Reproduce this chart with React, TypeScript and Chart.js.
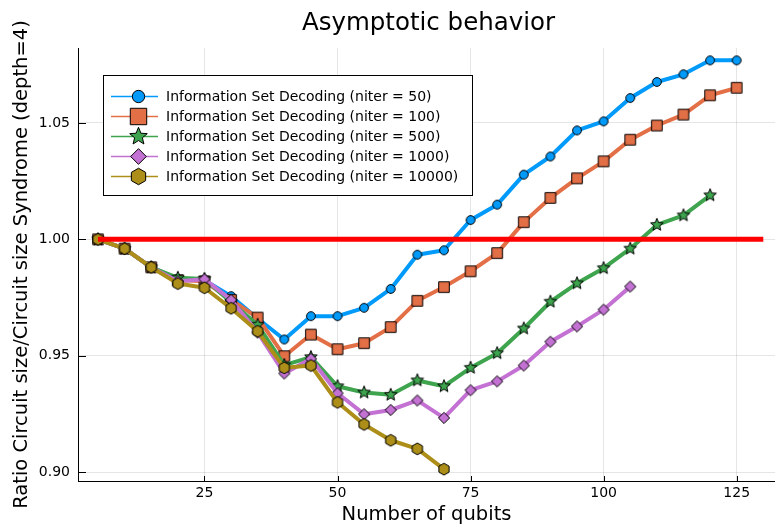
import React, { useEffect, useRef } from 'react';
import { Chart, registerables } from 'chart.js';

Chart.register(...registerables);

// ---------- data ----------
const qubits = [5, 10, 15, 20, 25, 30, 35, 40, 45, 50, 55, 60, 65, 70, 75, 80, 85, 90, 95, 100, 105, 110, 115, 120, 125];

const niter50 = [1.0, 0.996, 0.988, 0.983, 0.9825, 0.9756, 0.966, 0.957, 0.967, 0.967, 0.9706, 0.9787, 0.9934, 0.9953, 1.0083, 1.0149, 1.0278, 1.0356, 1.0468, 1.0507, 1.0607, 1.0676, 1.0709, 1.0769, 1.0769];
const niter100 = [1.0, 0.996, 0.988, 0.9825, 0.982, 0.974, 0.9664, 0.9498, 0.9591, 0.9528, 0.9554, 0.9623, 0.9736, 0.9795, 0.9863, 0.9941, 1.0074, 1.0178, 1.0262, 1.0335, 1.0428, 1.0489, 1.0536, 1.0619, 1.0651];
const niter500 = [1.0, 0.996, 0.988, 0.9835, 0.983, 0.973, 0.9633, 0.946, 0.9494, 0.9369, 0.9342, 0.9332, 0.9394, 0.9369, 0.9448, 0.9511, 0.9617, 0.9732, 0.9811, 0.9876, 0.996, 1.0062, 1.0103, 1.0189];
const niter1000 = [1.0, 0.996, 0.988, 0.982, 0.9829, 0.974, 0.96, 0.9424, 0.9487, 0.9339, 0.9249, 0.9267, 0.9308, 0.9233, 0.9352, 0.939, 0.9458, 0.956, 0.9626, 0.9698, 0.9797];
const niter10000 = [1.0, 0.996, 0.988, 0.981, 0.9792, 0.9704, 0.9605, 0.9448, 0.9458, 0.93, 0.9205, 0.9137, 0.91, 0.9013];

const refX = [5, 130];
const refY = [1.0, 1.0];

const seriesLabels = [
  'Information Set Decoding (niter = 50)',
  'Information Set Decoding (niter = 100)',
  'Information Set Decoding (niter = 500)',
  'Information Set Decoding (niter = 1000)',
  'Information Set Decoding (niter = 10000)',
];

const xTickValues = [25, 50, 75, 100, 125];
const yTickValues = [0.9, 0.95, 1.0, 1.05];

const titleText = 'Asymptotic behavior';
const xTitle = 'Number of qubits';
const yTitle = 'Ratio Circuit size/Circuit size Syndrome (depth=4)';

// ---------- styles ----------
const colors = ['#009AFA', '#E36F47', '#3EA44E', '#C371D2', '#AC8E18'];
const shapes = ['circle', 'square', 'star', 'diamond', 'hexagon'];
const FONT = "'DejaVu Sans', sans-serif";

function drawMarker(ctx: CanvasRenderingContext2D, shape: string, x: number, y: number, k: number, fill: string) {
  ctx.save();
  ctx.beginPath();
  if (shape === 'circle') {
    ctx.arc(x, y, 4.4 * k, 0, Math.PI * 2);
  } else if (shape === 'square') {
    const h = 5.3 * k;
    ctx.rect(x - h, y - h, 2 * h, 2 * h);
  } else if (shape === 'diamond') {
    const r = 5.6 * k;
    ctx.moveTo(x, y - r);
    ctx.lineTo(x + r, y);
    ctx.lineTo(x, y + r);
    ctx.lineTo(x - r, y);
    ctx.closePath();
  } else if (shape === 'star') {
    const R = 6.6 * k;
    const r = 2.9 * k;
    for (let i = 0; i < 10; i++) {
      const a = -Math.PI / 2 + (i * Math.PI) / 5;
      const rad = i % 2 === 0 ? R : r;
      const px = x + rad * Math.cos(a);
      const py = y + rad * Math.sin(a);
      if (i === 0) ctx.moveTo(px, py);
      else ctx.lineTo(px, py);
    }
    ctx.closePath();
  } else {
    const r = 5.9 * k;
    for (let i = 0; i < 6; i++) {
      const a = -Math.PI / 2 + (i * Math.PI) / 3;
      const px = x + r * Math.cos(a);
      const py = y + r * Math.sin(a);
      if (i === 0) ctx.moveTo(px, py);
      else ctx.lineTo(px, py);
    }
    ctx.closePath();
  }
  ctx.fillStyle = fill;
  ctx.fill();
  ctx.lineWidth = 1;
  ctx.strokeStyle = '#000000';
  ctx.stroke();
  ctx.restore();
}

function makePointStyle(shape: string, fill: string) {
  const c = document.createElement('canvas');
  c.width = 20;
  c.height = 20;
  const ctx = c.getContext('2d') as CanvasRenderingContext2D;
  drawMarker(ctx, shape, 10, 10, 1, fill);
  return c;
}

const decorPlugin = {
  id: 'decor',
  beforeDatasetsDraw(chart: any) {
    const ctx = chart.ctx as CanvasRenderingContext2D;
    const area = chart.chartArea;
    const xs = chart.scales.x;
    const ys = chart.scales.y;
    ctx.save();
    ctx.strokeStyle = '#000000';
    ctx.lineWidth = 1;
    ctx.beginPath();
    xTickValues.forEach((v) => {
      const px = Math.round(xs.getPixelForValue(v)) + 0.5;
      ctx.moveTo(px, area.bottom);
      ctx.lineTo(px, area.bottom - 5);
    });
    yTickValues.forEach((v) => {
      const py = Math.round(ys.getPixelForValue(v)) + 0.5;
      ctx.moveTo(area.left, py);
      ctx.lineTo(area.left + 8, py);
    });
    ctx.stroke();
    ctx.restore();
  },
  afterDraw(chart: any) {
    const ctx = chart.ctx as CanvasRenderingContext2D;
    const area = chart.chartArea;
    ctx.save();
    // plot title, centred over the plot area
    ctx.fillStyle = '#000000';
    ctx.font = `24.5px ${FONT}`;
    ctx.textAlign = 'center';
    ctx.textBaseline = 'alphabetic';
    ctx.fillText(titleText, (area.left + area.right) / 2 + 2, 29.5);

    // legend
    const bx = 103.5, by = 75.5, bw = 369, bh = 120;
    ctx.fillStyle = '#ffffff';
    ctx.fillRect(bx, by, bw, bh);
    ctx.strokeStyle = '#000000';
    ctx.lineWidth = 1;
    ctx.strokeRect(bx, by, bw, bh);
    ctx.font = `14px ${FONT}`;
    ctx.textBaseline = 'middle';
    ctx.textAlign = 'left';
    seriesLabels.forEach((lab, i) => {
      const y = 96.5 + i * 20;
      ctx.strokeStyle = colors[i];
      ctx.lineWidth = 1.5;
      ctx.beginPath();
      ctx.moveTo(111, y);
      ctx.lineTo(158, y);
      ctx.stroke();
      drawMarker(ctx, shapes[i], 138.5, y, shapes[i] === 'square' ? 1.55 : 1.4, colors[i]);
      ctx.fillStyle = '#000000';
      ctx.fillText(lab, 166, y + 0.5);
    });
    ctx.restore();
  },
};

export default function App() {
  const ref = useRef<HTMLCanvasElement | null>(null);

  useEffect(() => {
    if (!ref.current) return;
    Chart.defaults.font.family = FONT;
    const allSeries = [niter50, niter100, niter500, niter1000, niter10000];
    const datasets: any[] = allSeries.map((vals, i) => ({
      label: seriesLabels[i],
      data: vals.map((v, j) => ({ x: qubits[j], y: v })),
      borderColor: colors[i],
      backgroundColor: colors[i],
      borderWidth: 4,
      borderJoinStyle: 'round',
      pointStyle: makePointStyle(shapes[i], colors[i]),
      pointRadius: 6,
      pointHoverRadius: 6,
      tension: 0,
      fill: false,
      order: 10 - i,
    }));
    datasets.push({
      label: 'reference',
      data: refX.map((x, j) => ({ x, y: refY[j] })),
      borderColor: '#FF0000',
      backgroundColor: '#FF0000',
      borderWidth: 5,
      pointRadius: 0,
      pointHoverRadius: 0,
      fill: false,
      order: 0,
    });

    const chart = new Chart(ref.current, {
      type: 'line',
      data: { datasets },
      options: {
        animation: false,
        responsive: false,
        maintainAspectRatio: false,
        events: [],
        layout: { autoPadding: false, padding: { top: 48, left: 0, right: 0, bottom: 0 } },
        plugins: {
          legend: { display: false },
          tooltip: { enabled: false },
          title: { display: false },
        },
        scales: {
          x: {
            type: 'linear',
            min: 1.24,
            max: 132.2,
            afterFit: (s: any) => {
              s.height = 46;
              s.paddingLeft = 0;
              s.paddingRight = 0;
            },
            afterBuildTicks: (s: any) => { s.ticks = xTickValues.map((v) => ({ value: v })); },
            grid: { color: 'rgba(0,0,0,0.1)', lineWidth: 1, drawTicks: false },
            border: { display: true, color: '#000000', width: 1 },
            ticks: {
              color: '#000000',
              font: { family: FONT, size: 14 },
              padding: 4,
              maxRotation: 0,
              callback: (v: any) => String(v),
            },
            title: {
              display: true,
              text: xTitle,
              color: '#000000',
              font: { family: FONT, size: 19.5, weight: 'normal' },
              padding: { top: 0, bottom: 0 },
            },
          },
          y: {
            type: 'linear',
            min: 0.8962,
            max: 1.0822,
            afterFit: (s: any) => {
              s.width = 78;
              s.paddingTop = 0;
              s.paddingBottom = 0;
            },
            afterBuildTicks: (s: any) => { s.ticks = yTickValues.map((v) => ({ value: v })); },
            grid: { color: 'rgba(0,0,0,0.1)', lineWidth: 1, drawTicks: false },
            border: { display: true, color: '#000000', width: 1 },
            ticks: {
              color: '#000000',
              font: { family: FONT, size: 14 },
              padding: 8,
              callback: (v: any) => Number(v).toFixed(2),
            },
            title: {
              display: true,
              text: yTitle,
              color: '#000000',
              font: { family: FONT, size: 19.5, weight: 'normal' },
              padding: { top: 10, bottom: 0 },
            },
          },
        },
      },
      plugins: [decorPlugin],
    } as any);

    return () => chart.destroy();
  }, []);

  return (
    <div style={{ position: 'fixed', left: 0, top: 0, width: 775, height: 527, background: '#ffffff' }}>
      <canvas ref={ref} width={775} height={527} style={{ width: 775, height: 527, display: 'block' }} />
    </div>
  );
}
